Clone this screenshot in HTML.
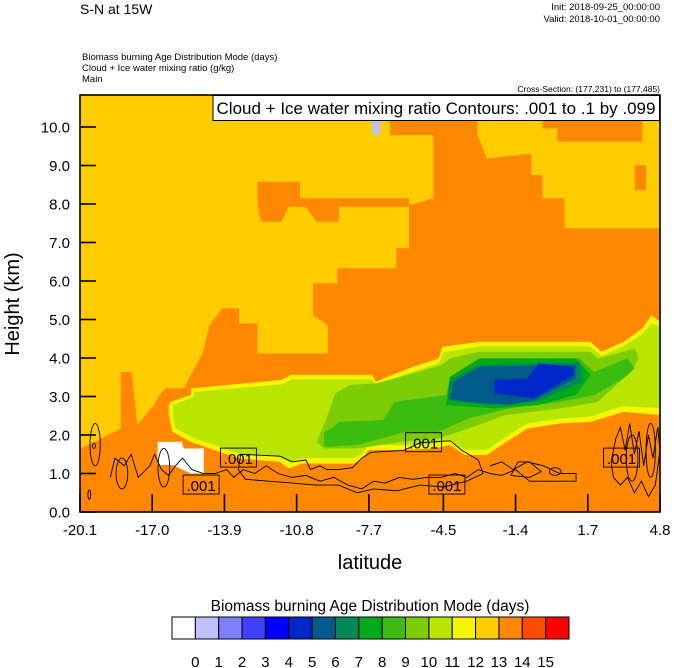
<!DOCTYPE html>
<html><head><meta charset="utf-8">
<style>
body{margin:0;background:#fff;width:674px;height:668px;overflow:hidden;font-family:"Liberation Sans",Arial,sans-serif}
svg{display:block}
</style></head>
<body>
<svg id="chart" width="674" height="668" viewBox="0 0 674 668" xmlns="http://www.w3.org/2000/svg" font-family="Liberation Sans, Arial, sans-serif">
<text x="80" y="14" font-size="14">S-N at 15W</text>
<text x="660" y="10" font-size="9.5" text-anchor="end">Init: 2018-09-25_00:00:00</text>
<text x="660" y="22" font-size="9.5" text-anchor="end">Valid: 2018-10-01_00:00:00</text>
<text x="82" y="60" font-size="9.5">Biomass burning Age Distribution Mode   (days)</text>
<text x="82" y="71" font-size="9.5">Cloud + Ice water mixing ratio   (g/kg)</text>
<text x="82" y="82" font-size="9.5">Main</text>
<text x="660" y="92" font-size="8.5" text-anchor="end">Cross-Section: (177,231) to (177,485)</text>
<defs><clipPath id="plotclip"><rect x="80" y="95" width="580" height="417"/></clipPath></defs>
<g id="fills" clip-path="url(#plotclip)"></g>
<g id="lines" clip-path="url(#plotclip)" fill="none" stroke="#000" stroke-width="0.9"></g>
<g id="axes"></g>
<rect x="213" y="95.5" width="446.5" height="25" fill="#fff" stroke="#000" stroke-width="1"/>
<text x="436" y="114" font-size="17" text-anchor="middle">Cloud + Ice water mixing ratio Contours: .001 to .1 by .099</text>
<text transform="translate(19,304) rotate(-90)" font-size="20" text-anchor="middle">Height (km)</text>
<text x="370" y="569" font-size="20" text-anchor="middle">latitude</text>
<text x="370" y="611" font-size="15.5" text-anchor="middle">Biomass burning Age Distribution Mode  (days)</text>
<g id="cbar"></g>
</svg>
<script>
const xTicks=[-20.1,-17.0,-13.9,-10.8,-7.7,-4.5,-1.4,1.7,4.8];
const yTicks=[0,1,2,3,4,5,6,7,8,9,10];
const cbarColors=["#ffffff","#c0c0ff","#8080ff","#4040ff","#0000ff","#0028c8","#005a8a","#00885a","#00aa18","#3cbb10","#7ccc08","#b8e600","#f5f500","#ffcc00","#ff8800","#ff4a00","#ff0000"];
const cbarLabels=["0","1","2","3","4","5","6","7","8","9","10","11","12","13","14","15"];
const bgRegion=[[-20.1,10.83],[4.8,10.83],[4.8,0],[-20.1,0]];
const yellowLeft=[[-20.1,10.83],[-6.79,10.83],[-6.79,9.79],[-4.93,9.79],[-4.93,8.15],[-5.97,7.97],[-5.97,6.85],[-6.52,6.85],[-6.52,6.33],[-9.06,6.33],[-9.06,5.94],[-10.10,5.94],[-10.10,5.11],[-9.46,4.85],[-9.46,4.12],[-12.48,4.12],[-12.48,4.90],[-13.27,4.90],[-13.27,5.29],[-13.99,5.29],[-14.54,4.85],[-14.86,4.08],[-15.34,3.56],[-15.65,3.21],[-16.45,3.21],[-16.69,3.04],[-16.92,2.78],[-17.64,2.26],[-17.88,3.64],[-18.35,3.64],[-18.35,2.17],[-19.46,1.82],[-20.1,1.65]];
const orangeBlock=[[-12.48,8.58],[-10.65,8.58],[-10.65,8.15],[-5.97,8.15],[-5.97,7.93],[-8.98,7.93],[-8.98,7.54],[-9.94,7.54],[-10.41,7.93],[-11.13,7.93],[-11.45,7.54],[-12.32,7.54],[-12.48,7.97]];
const yellowRight=[[-3.03,10.18],[-0.25,10.18],[-0.25,9.96],[0.39,9.96],[0.39,9.62],[4.8,9.62],[4.8,7.37],[0.70,7.37],[0.70,8.15],[-0.25,8.15],[-0.25,8.75],[-0.73,8.75],[-0.73,9.31],[-2.63,9.18],[-3.03,9.79]];
const orangeRight=[[3.72,9.01],[4.2,9.01],[4.2,8.36],[3.72,8.36]];
const yellowCorner=[[4.04,10.83],[4.8,10.83],[4.8,9.62],[4.04,9.62]];
const plume12=[[-16.29,2.78],[-16.21,2.86],[-15.34,3.04],[-15.34,3.21],[-11.45,3.43],[-11.05,3.56],[-7.55,3.56],[-7.40,3.38],[-6.92,3.51],[-5.81,3.77],[-4.70,3.99],[-4.54,4.29],[-2.95,4.42],[1.81,4.42],[2.29,4.16],[3.24,4.42],[4.04,4.77],[4.43,5.11],[4.8,4.94],[4.8,2.52],[3.24,2.60],[1.81,2.34],[0.54,2.30],[-0.89,2.17],[-2.0,1.74],[-2.63,1.48],[-3.58,1.48],[-4.22,1.74],[-4.86,1.65],[-6.13,1.61],[-7.71,1.61],[-8.03,1.35],[-8.35,1.26],[-10.57,1.26],[-11.13,1.13],[-11.52,1.30],[-13.27,1.39],[-15.34,1.82],[-16.13,2.08],[-16.29,2.52]];
const plume11=[[-16.1,2.78],[-15.2,3.0],[-15.2,3.12],[-11.4,3.32],[-11.0,3.45],[-7.55,3.45],[-7.4,3.28],[-6.9,3.4],[-5.8,3.65],[-4.7,3.86],[-4.5,4.15],[-2.95,4.3],[1.8,4.3],[2.3,4.05],[3.2,4.3],[4.0,4.6],[4.45,4.9],[4.8,4.8],[4.8,2.7],[3.2,2.75],[1.8,2.48],[0.5,2.42],[-0.9,2.3],[-2.0,1.88],[-2.6,1.62],[-3.6,1.62],[-4.2,1.88],[-4.9,1.78],[-6.1,1.74],[-7.7,1.74],[-8.0,1.5],[-8.4,1.4],[-10.5,1.4],[-11.1,1.3],[-11.5,1.42],[-13.2,1.5],[-15.2,1.92],[-16.0,2.18],[-16.1,2.5]];
const plume10=[[-9.14,3.08],[-8.51,3.30],[-7.40,3.34],[-6.60,3.47],[-5.81,3.60],[-4.54,3.82],[-4.22,3.99],[-2.95,4.16],[1.81,4.16],[2.13,3.99],[3.24,4.16],[3.72,4.25],[3.88,3.99],[3.56,3.64],[2.93,3.30],[2.13,2.86],[0.54,2.69],[-1.84,2.52],[-3.43,2.17],[-4.70,1.91],[-6.28,1.82],[-8.19,1.65],[-9.62,1.65],[-9.94,1.82],[-9.46,2.52]];
const plume9=[[-9.30,2.17],[-8.98,2.34],[-7.08,2.39],[-6.60,2.86],[-4.38,3.04],[-4.22,3.47],[-2.95,3.99],[1.34,3.99],[1.97,3.64],[3.40,3.99],[3.72,3.73],[3.24,3.47],[1.97,3.04],[0.54,2.86],[-1.68,2.69],[-3.43,2.43],[-4.70,2.08],[-6.13,2.08],[-8.19,1.74],[-9.62,1.69],[-9.62,2.08]];
const plume8=[[-4.38,2.78],[-4.22,3.51],[-2.95,3.99],[1.18,3.99],[1.81,3.56],[1.18,3.04],[-0.41,2.78],[-2.31,2.69]];
const plume7=[[-4.30,2.91],[-4.22,3.43],[-2.95,3.82],[1.34,3.90],[1.50,3.38],[-0.57,2.86],[-2.63,2.78]];
const plume6=[[-4.22,2.95],[-4.06,3.38],[-2.95,3.77],[1.18,3.82],[1.18,3.47],[-0.57,2.91],[-1.68,2.78],[-3.58,2.86]];
const plume5=[[-2.31,3.08],[-2.31,3.43],[-0.89,3.47],[-0.41,3.86],[1.10,3.77],[1.10,3.56],[-0.57,2.95]];
const whitePatch=[[-16.77,1.82],[-15.73,1.82],[-15.65,1.65],[-14.78,1.65],[-14.78,1.00],[-15.34,1.00],[-16.13,1.22],[-16.77,1.22]];
const lavPatch=[[-7.55,10.18],[-7.21,10.18],[-7.21,9.81],[-7.55,9.81]];
const contourA=[[-18.8,0.9],[-18.6,1.4],[-18.2,1.2],[-17.9,1.5],[-17.6,0.9],[-17.1,1.2],[-16.9,1.5],[-16.6,1.1],[-16.3,0.95],[-16.0,1.2],[-15.7,1.4],[-15.3,1.1],[-14.8,1.0],[-14.3,1.0],[-13.8,1.1],[-13.5,0.9],[-13.1,1.1],[-12.6,1.0],[-12.1,1.2],[-11.6,1.0],[-11.0,0.9],[-10.4,0.95],[-9.8,0.8],[-9.2,0.9],[-8.6,0.7],[-8.0,0.6],[-7.5,0.8],[-7.0,0.75],[-6.4,0.9],[-5.8,0.85],[-5.2,0.9],[-4.6,0.9],[-4.0,1.0],[-3.5,0.9],[-3.0,1.1],[-2.5,1.0],[-2.0,0.95],[-1.4,1.1],[-0.8,0.8],[-0.2,0.8],[0.5,0.8],[1.2,0.8],[1.2,1.0],[0.5,1.0],[-0.2,1.2],[-0.9,1.3],[-1.5,1.1],[-2.0,1.3],[-2.5,1.2]];
const contourB=[[-13.3,1.1],[-13.2,1.5],[-11.5,1.45],[-11.0,1.3],[-10.4,1.35],[-10.2,1.1],[-9.8,1.2],[-9.5,1.1],[-9.0,1.1],[-8.4,1.15],[-8.0,1.4],[-7.6,1.55],[-6.2,1.6],[-5.5,1.8],[-4.2,1.85],[-3.7,1.6],[-3.0,1.35],[-2.8,1.0],[-3.5,0.8],[-4.5,0.65],[-5.5,0.7],[-6.5,0.55],[-7.5,0.6],[-8.2,0.5],[-9.0,0.7],[-10.0,0.7],[-11.0,0.75],[-12.0,0.8],[-13.0,0.85],[-13.3,1.1]];
const contourC=[[2.7,1.3],[2.9,1.9],[3.1,2.2],[3.3,1.6],[3.5,2.3],[3.7,1.5],[3.9,2.1],[4.1,1.2],[4.3,2.0],[4.5,1.4],[4.7,2.2],[4.8,1.6],[4.6,0.7],[4.3,0.4],[4.0,0.8],[3.7,0.5],[3.4,0.9],[3.1,0.7],[2.8,0.9],[2.7,1.3]];
const contourD=[[-1.6,0.95],[-1.3,1.3],[-0.8,1.3],[-0.3,1.05],[-0.8,0.9],[-1.6,0.95]];
const ovals=[[-19.45,1.75,0.22,0.55],[-19.5,1.72,0.06,0.07],[-19.7,0.45,0.06,0.12],[-18.3,1.0,0.25,0.4],[-16.5,1.15,0.25,0.5],[3.6,1.4,0.25,0.6],[4.4,1.6,0.2,0.7],[0.3,1.05,0.25,0.1]];
const labelPos=[[-14.9,0.7],[-13.3,1.4],[-5.35,1.8],[-4.35,0.7],[3.15,1.4]];

const X0=80,X1=660,Y0=512,PXKM=38.5;
const xs=v=>X0+(v-(-20.1))/(4.8-(-20.1))*(X1-X0);
const ys=v=>Y0-v*PXKM;
const NS="http://www.w3.org/2000/svg";
const ptsStr=a=>a.map(p=>xs(p[0]).toFixed(1)+","+ys(p[1]).toFixed(1)).join(" ");
const fills=document.getElementById('fills');
function poly(arr,color,name){const p=document.createElementNS(NS,'polygon');p.setAttribute('points',ptsStr(arr));p.setAttribute('fill',color);


fills.appendChild(p);}
poly(bgRegion,cbarColors[14],'fill-13-14');
poly(yellowLeft,cbarColors[13],'fill-12-13-left');
poly(orangeBlock,cbarColors[14],'fill-13-14-block');
poly(yellowRight,cbarColors[13],'fill-12-13-right');
poly(orangeRight,cbarColors[14],'fill-13-14-right');
poly(yellowCorner,cbarColors[13],'fill-12-13-corner');
poly(plume12,cbarColors[12],'fill-11-12');
poly(plume11,cbarColors[11],'fill-10-11');
poly(plume10,cbarColors[10],'fill-9-10');
poly(plume9,cbarColors[9],'fill-8-9');
poly(plume8,cbarColors[8],'fill-7-8');
poly(plume7,cbarColors[7],'fill-6-7');
poly(plume6,cbarColors[6],'fill-5-6');
poly(plume5,cbarColors[5],'fill-4-5');
poly(whitePatch,cbarColors[0],'fill-below-0');
poly(lavPatch,cbarColors[1],'fill-0-1');

const lines=document.getElementById('lines');
[[contourA,'contour-low-wiggle'],[contourB,'contour-plume-base'],[contourC,'contour-right'],[contourD,'contour-small']].forEach(([a,n])=>{
const pl=document.createElementNS(NS,'polyline');pl.setAttribute('points',ptsStr(a));


lines.appendChild(pl);});
ovals.forEach(o=>{const e=document.createElementNS(NS,'ellipse');
const cx=xs(o[0]),cy=ys(o[1]);e.setAttribute('cx',cx);e.setAttribute('cy',cy);
e.setAttribute('rx',xs(o[0]+o[2])-cx);e.setAttribute('ry',cy-ys(o[1]+o[3]));


lines.appendChild(e);});
labelPos.forEach(p=>{const cx=xs(p[0]),cy=ys(p[1]);
const r=document.createElementNS(NS,'rect');r.setAttribute('x',cx-18);r.setAttribute('y',cy-10);r.setAttribute('width',36);r.setAttribute('height',19);


lines.appendChild(r);
const t=document.createElementNS(NS,'text');t.setAttribute('x',cx);t.setAttribute('y',cy+6);t.setAttribute('font-size','15');t.setAttribute('text-anchor','middle');t.setAttribute('fill','#000');t.setAttribute('stroke','none');t.textContent='.001';


lines.appendChild(t);});

const axes=document.getElementById('axes');
const fr=document.createElementNS(NS,'rect');fr.setAttribute('x',80);fr.setAttribute('y',95);fr.setAttribute('width',580);fr.setAttribute('height',417);fr.setAttribute('fill','none');fr.setAttribute('stroke','#000');fr.setAttribute('stroke-width','1.6');


axes.appendChild(fr);
yTicks.forEach(v=>{const y=ys(v);
const l=document.createElementNS(NS,'line');l.setAttribute('x1',80);l.setAttribute('x2',96);l.setAttribute('y1',y);l.setAttribute('y2',y);l.setAttribute('stroke','#000');l.setAttribute('stroke-width','1.6');


axes.appendChild(l);
const t=document.createElementNS(NS,'text');t.setAttribute('x',70);t.setAttribute('y',y+5.5);t.setAttribute('font-size','15');t.setAttribute('text-anchor','end');t.textContent=v.toFixed(1);


axes.appendChild(t);});
xTicks.forEach(v=>{const x=xs(v);
const l=document.createElementNS(NS,'line');l.setAttribute('x1',x);l.setAttribute('x2',x);l.setAttribute('y1',512);l.setAttribute('y2',494);l.setAttribute('stroke','#000');l.setAttribute('stroke-width','1.6');


axes.appendChild(l);
const t=document.createElementNS(NS,'text');t.setAttribute('x',x);t.setAttribute('y',535);t.setAttribute('font-size','15');t.setAttribute('text-anchor','middle');t.textContent=v.toFixed(1);


axes.appendChild(t);});

const cb=document.getElementById('cbar');
const cbx=172,cbw=397/cbarColors.length;
cbarColors.forEach((c,i)=>{const r=document.createElementNS(NS,'rect');r.setAttribute('x',cbx+i*cbw);r.setAttribute('y',617);r.setAttribute('width',cbw);r.setAttribute('height',22);r.setAttribute('fill',c);r.setAttribute('stroke','#000');r.setAttribute('stroke-width','1');


cb.appendChild(r);});
cbarLabels.forEach((s,i)=>{const t=document.createElementNS(NS,'text');t.setAttribute('x',cbx+(i+1)*cbw);t.setAttribute('y',667);t.setAttribute('font-size','15');t.setAttribute('text-anchor','middle');t.textContent=s;


cb.appendChild(t);});
</script>
</body></html>
